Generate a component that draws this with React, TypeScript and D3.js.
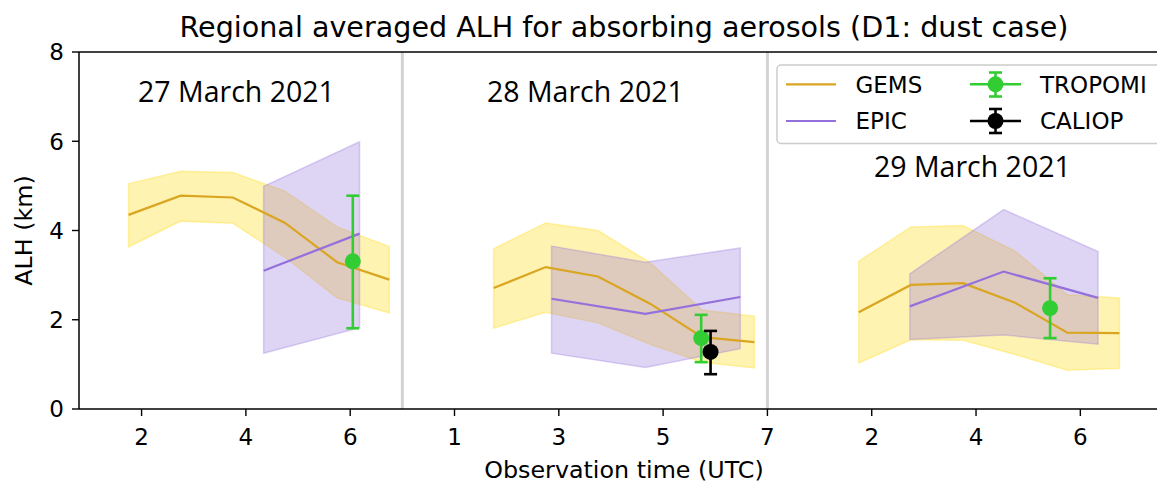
import React from "react";
import * as d3 from "d3";

// Day layout: each day occupies its own stretch of the shared x axis
const dayOffsets = [0, 7, 14];
const dayLabels = ["27 March 2021", "28 March 2021", "29 March 2021"];
const dayLabelHour = [3.82, 3.51, 3.93];
const dayLabelAlh = [6.89, 6.89, 5.21];
const dayTickHours = [[2, 4, 6], [1, 3, 5, 7], [2, 4, 6]];
const yTicks = [0, 2, 4, 6, 8];

// GEMS hourly regional means with spread band (km)
const gemsHours = [
  [1.75, 2.75, 3.75, 4.75, 5.75, 6.75],
  [1.75, 2.75, 3.75, 4.75, 5.75, 6.75],
  [1.75, 2.75, 3.75, 4.75, 5.75, 6.75],
];
const gemsMean = [
  [4.35, 4.78, 4.74, 4.17, 3.29, 2.9],
  [2.71, 3.18, 2.97, 2.36, 1.61, 1.5],
  [2.17, 2.78, 2.82, 2.38, 1.71, 1.7],
];
const gemsUpper = [
  [5.05, 5.33, 5.3, 4.88, 4.08, 3.64],
  [3.59, 4.17, 4.0, 3.28, 2.22, 2.08],
  [3.31, 4.08, 4.11, 3.54, 2.56, 2.49],
];
const gemsLower = [
  [3.63, 4.21, 4.16, 3.4, 2.49, 2.15],
  [1.81, 2.17, 1.93, 1.45, 1.05, 0.92],
  [1.03, 1.55, 1.54, 1.22, 0.87, 0.91],
];

// EPIC means with spread band (km)
const epicHours = [
  [4.34, 6.18],
  [2.86, 4.66, 6.48],
  [2.73, 4.53, 6.34],
];
const epicMean = [
  [3.1, 3.93],
  [2.47, 2.13, 2.51],
  [2.3, 3.08, 2.49],
];
const epicUpper = [
  [4.99, 5.99],
  [3.65, 3.29, 3.61],
  [3.03, 4.47, 3.53],
];
const epicLower = [
  [1.25, 1.82],
  [1.25, 0.93, 1.35],
  [1.56, 1.66, 1.45],
];

// Point retrievals with their ranges (km)
const tropomiDay = [0, 1, 2];
const tropomiHour = [6.05, 5.73, 5.42];
const tropomiMean = [3.31, 1.59, 2.26];
const tropomiLow = [1.81, 1.05, 1.59];
const tropomiHigh = [4.78, 2.11, 2.93];

const caliopDay = [1];
const caliopHour = [5.91];
const caliopMean = [1.28];
const caliopLow = [0.78];
const caliopHigh = [1.75];

const W = 1157;
const H = 483;
const M = { left: 79, right: 1169, top: 52, bottom: 409 };

const GEMS_LINE = "#daa520";
const GEMS_FILL = "#ffd700";
const EPIC_LINE = "#9370db";
const TROPOMI = "#32cd32";
const CALIOP = "#000000";
const FONT = "'DejaVu Sans', sans-serif";

export default function App() {
  const x = d3.scaleLinear().domain([0.8, 21.7]).range([M.left, M.right]);
  const y = d3.scaleLinear().domain([0, 8]).range([M.bottom, M.top]);
  const pos = (day: number, h: number) => x(dayOffsets[day] + h);

  const bandPath = (day: number, hours: number[], lo: number[], hi: number[]) => {
    const pts = hours.map((h, i) => ({ h, lo: lo[i], hi: hi[i] }));
    return (
      d3
        .area<any>()
        .x((d) => pos(day, d.h))
        .y0((d) => y(d.lo))
        .y1((d) => y(d.hi))(pts) || ""
    );
  };
  const linePath = (day: number, hours: number[], v: number[]) =>
    d3
      .line<number>()
      .x((h) => pos(day, h))
      .y((_, i) => y(v[i]))(hours) || "";

  const xTicks: { p: number; label: string }[] = [];
  dayTickHours.forEach((hs, d) => hs.forEach((h) => xTicks.push({ p: dayOffsets[d] + h, label: String(h) })));

  const errBar = (cx: number, cy: number, ylo: number, yhi: number, color: string, key: string) => (
    <g key={key}>
      <line x1={cx} x2={cx} y1={ylo} y2={yhi} stroke={color} strokeWidth={2.6} />
      <line x1={cx - 6.5} x2={cx + 6.5} y1={ylo} y2={ylo} stroke={color} strokeWidth={2.6} />
      <line x1={cx - 6.5} x2={cx + 6.5} y1={yhi} y2={yhi} stroke={color} strokeWidth={2.6} />
      <circle cx={cx} cy={cy} r={8} fill={color} />
    </g>
  );

  return (
    <svg
      width={W}
      height={H}
      viewBox={`0 0 ${W} ${H}`}
      style={{ position: "absolute", left: 0, top: 0, display: "block", background: "#fff" }}
      fontFamily={FONT}
    >
      <rect width={W} height={H} fill="#fff" />

      {/* day separators */}
      {[7, 14].map((p) => (
        <line key={p} x1={x(p)} x2={x(p)} y1={M.top} y2={M.bottom} stroke="#d3d3d3" strokeWidth={3} />
      ))}

      {/* GEMS bands */}
      {gemsHours.map((hs, d) => (
        <path
          key={"gb" + d}
          d={bandPath(d, hs, gemsLower[d], gemsUpper[d])}
          fill={GEMS_FILL}
          fillOpacity={0.3}
          stroke={GEMS_FILL}
          strokeOpacity={0.3}
          strokeWidth={1.5}
        />
      ))}
      {/* EPIC bands */}
      {epicHours.map((hs, d) => (
        <path
          key={"eb" + d}
          d={bandPath(d, hs, epicLower[d], epicUpper[d])}
          fill={EPIC_LINE}
          fillOpacity={0.3}
          stroke={EPIC_LINE}
          strokeOpacity={0.3}
          strokeWidth={1.5}
        />
      ))}
      {gemsHours.map((hs, d) => (
        <path key={"gl" + d} d={linePath(d, hs, gemsMean[d])} fill="none" stroke={GEMS_LINE} strokeWidth={2.2} />
      ))}
      {epicHours.map((hs, d) => (
        <path key={"el" + d} d={linePath(d, hs, epicMean[d])} fill="none" stroke={EPIC_LINE} strokeWidth={2.2} />
      ))}

      {tropomiDay.map((d, i) =>
        errBar(pos(d, tropomiHour[i]), y(tropomiMean[i]), y(tropomiLow[i]), y(tropomiHigh[i]), TROPOMI, "t" + i)
      )}
      {caliopDay.map((d, i) =>
        errBar(pos(d, caliopHour[i]), y(caliopMean[i]), y(caliopLow[i]), y(caliopHigh[i]), CALIOP, "c" + i)
      )}

      {/* day labels */}
      {dayLabels.map((t, d) => (
        <text
          key={t}
          x={pos(d, dayLabelHour[d])}
          y={y(dayLabelAlh[d])}
          textAnchor="middle"
          fontFamily="'Open Sans', sans-serif"
          fontSize={28.5}
          fill="#000"
        >
          {t}
        </text>
      ))}

      {/* axes frame */}
      <line x1={M.left} x2={W + 5} y1={M.top} y2={M.top} stroke="#000" strokeWidth={1.5} />
      <line x1={M.left} x2={W + 5} y1={M.bottom} y2={M.bottom} stroke="#000" strokeWidth={1.5} />
      <line x1={M.left} x2={M.left} y1={M.top} y2={M.bottom} stroke="#000" strokeWidth={1.5} />

      {xTicks.map((t, i) => (
        <g key={"xt" + i} transform={`translate(${x(t.p)},${M.bottom})`}>
          <line y2={7} stroke="#000" strokeWidth={1.4} />
          <text y={36} textAnchor="middle" fontSize={23} fill="#000">
            {t.label}
          </text>
        </g>
      ))}
      {yTicks.map((v) => (
        <g key={"yt" + v} transform={`translate(${M.left},${y(v)})`}>
          <line x2={-7} stroke="#000" strokeWidth={1.4} />
          <text x={-15} dy="0.36em" textAnchor="end" fontSize={23} fill="#000">
            {v}
          </text>
        </g>
      ))}

      <text x={(M.left + M.right) / 2} y={478} textAnchor="middle" fontSize={23.8} fill="#000">
        Observation time (UTC)
      </text>
      <text
        transform={`translate(31.5,${(M.top + M.bottom) / 2}) rotate(-90)`}
        textAnchor="middle"
        fontSize={23.8}
        fill="#000"
      >
        ALH (km)
      </text>
      <text x={(M.left + M.right) / 2} y={36.5} textAnchor="middle" fontSize={28.6} fill="#000">
        Regional averaged ALH for absorbing aerosols (D1: dust case)
      </text>

      {/* legend */}
      <g>
        <rect x={777} y={65} width={400} height={78.5} rx={4} fill="#fff" fillOpacity={0.8} stroke="#cccccc" strokeWidth={1.5} />
        <line x1={786} x2={836} y1={84.3} y2={84.3} stroke={GEMS_LINE} strokeWidth={2.2} />
        <text x={855.5} y={92.7} fontSize={23} fill="#000">GEMS</text>
        <line x1={786} x2={836} y1={121} y2={121} stroke={EPIC_LINE} strokeWidth={2.2} />
        <text x={855.5} y={129.3} fontSize={23} fill="#000">EPIC</text>
        <line x1={970} x2={1021} y1={84.3} y2={84.3} stroke={TROPOMI} strokeWidth={2.6} />
        {errBar(995.5, 84.3, 96.5, 72.5, TROPOMI, "lt")}
        <text x={1040} y={92.7} fontSize={23} fill="#000">TROPOMI</text>
        <line x1={970} x2={1021} y1={121} y2={121} stroke={CALIOP} strokeWidth={2.6} />
        {errBar(995.5, 121, 133, 109, CALIOP, "lc")}
        <text x={1040} y={129.3} fontSize={23} fill="#000">CALIOP</text>
      </g>
    </svg>
  );
}
